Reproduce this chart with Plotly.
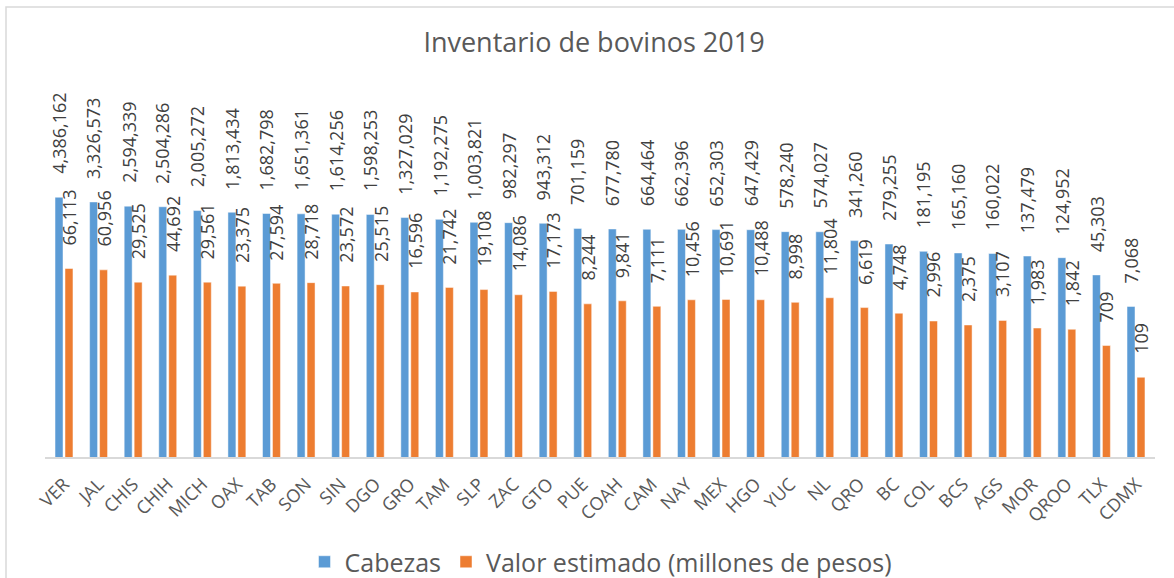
import numpy as np
import plotly.graph_objects as go

estados = ["VER", "JAL", "CHIS", "CHIH", "MICH", "OAX", "TAB", "SON", "SIN", "DGO",
           "GRO", "TAM", "SLP", "ZAC", "GTO", "PUE", "COAH", "CAM", "NAY", "MEX",
           "HGO", "YUC", "NL", "QRO", "BC", "COL", "BCS", "AGS", "MOR", "QROO",
           "TLX", "CDMX"]
cabezas = [4386162, 3326573, 2594339, 2504286, 2005272, 1813434, 1682798, 1651361,
           1614256, 1598253, 1327029, 1192275, 1003821, 982297, 943312, 701159,
           677780, 664464, 662396, 652303, 647429, 578240, 574027, 341260, 279255,
           181195, 165160, 160022, 137479, 124952, 45303, 7068]
valor = [66113, 60956, 29525, 44692, 29561, 23375, 27594, 28718, 23572, 25515,
         16596, 21742, 19108, 14086, 17173, 8244, 9841, 7111, 10456, 10691, 10488,
         8998, 11804, 6619, 4748, 2996, 2375, 3107, 1983, 1842, 709, 109]

FONT = "Open Sans"
BLUE = "#5B9BD5"
ORANGE = "#ED7D31"

fig = go.Figure()
fig.add_trace(go.Bar(x=estados, y=cabezas, name="Cabezas", marker_color=BLUE,
                     marker_line=dict(color="rgba(255,255,255,0.6)", width=0.8)))
fig.add_trace(go.Bar(x=estados, y=valor, name="Valor estimado (millones de pesos)",
                     marker_color=ORANGE,
                     marker_line=dict(color="rgba(255,255,255,0.6)", width=0.8)))

annotations = []
for series, shift in ((cabezas, -5), (valor, 5)):
    for c, v in zip(estados, series):
        annotations.append(dict(x=c, y=np.log10(v), xref="x", yref="y",
                                text=f"{v:,}", showarrow=False, textangle=-90,
                                xanchor="center", yanchor="bottom", xshift=shift,
                                yshift=21, font=dict(family=FONT, size=18, color="#404040")))

L, R, T, B = 45, 19, 80, 121
W, H = 1174, 578
pw, ph = W - L - R, H - T - B

fig.update_layout(
    width=W, height=H,
    margin=dict(l=L, r=R, t=T, b=B, autoexpand=False),
    paper_bgcolor="white", plot_bgcolor="white",
    title=dict(text="Inventario de bovinos 2019", x=(594 - L) / pw, xref="paper",
               xanchor="center", y=1 - 43 / H, yanchor="middle",
               font=dict(family=FONT, size=27, color="#595959")),
    barmode="group", bargap=0.4235, bargroupgap=0.2,
    xaxis=dict(showline=True, linecolor="#D9D9D9", linewidth=1.5, tickangle=-45,
               ticks="", ticklabelstandoff=8, automargin=False,
               tickfont=dict(family=FONT, size=18, color="#595959")),
    yaxis=dict(type="log", range=[0, 9.64], showgrid=False, showticklabels=False,
               zeroline=False, showline=False, automargin=False),
    legend=dict(orientation="h", x=(601 - L) / pw, xanchor="center", y=-(562 - 457) / ph,
                yanchor="middle", font=dict(family=FONT, size=25, color="#595959")),
    annotations=annotations,
    shapes=[dict(type="rect", xref="paper", yref="paper",
                 x0=(6 - L) / pw, x1=(W + 5 - L) / pw,
                 y0=-(H + 5 - T - ph) / ph, y1=(H - B - 7) / ph,
                 line=dict(color="#D9D9D9", width=1.5), fillcolor="rgba(0,0,0,0)")],
)

fig.write_html("out.html", config={"displayModeBar": False},
               post_script="document.body.style.margin='0';document.body.style.overflow='hidden';")
